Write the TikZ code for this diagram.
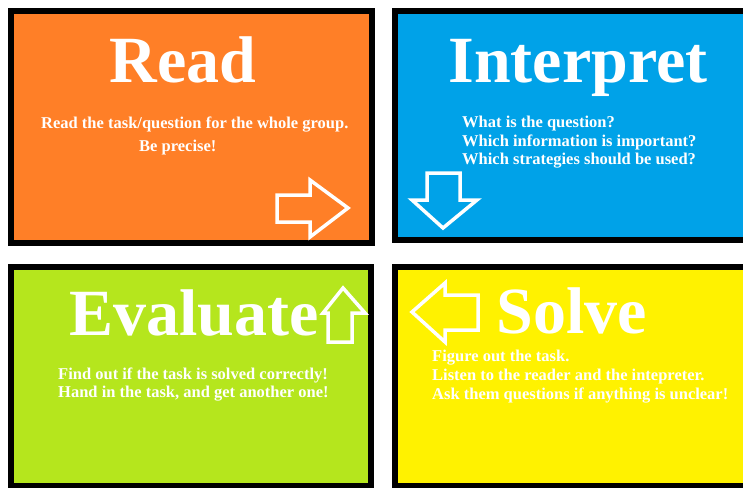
\documentclass[tikz,border=0pt]{standalone}
\usepackage{fontspec}
\setmainfont{Liberation Serif}
\usetikzlibrary{positioning}
\definecolor{readorange}{HTML}{FF7F27}
\definecolor{interpblue}{HTML}{00A2E8}
\definecolor{evalgreen}{HTML}{B5E61D}
\definecolor{solveyellow}{HTML}{FFF200}

\begin{document}
\begin{tikzpicture}[x=1pt,y=-1pt]
            \tikzstyle{every node}+=[inner sep=0pt,text=white]
            \tikzstyle{box}=[draw=black,line width=6pt]
            \tikzstyle{title}=[anchor=base,font=\fontsize{66}{66}\selectfont\bfseries]
            \tikzstyle{line}=[anchor=base west,font=\fontsize{16.5}{19}\selectfont\bfseries]
            \tikzstyle{blockarrow}=[draw=white,line width=3.5pt,line join=miter]
            \useasboundingbox (0,0) rectangle (743,487);
            \fill [white] (0,0) rectangle (743,487);
            % the four boxes
            \draw [box,fill=readorange] (11,11) rectangle (372,243);
            \draw [box,fill=interpblue] (395,11) rectangle (752,240);
            \draw [box,fill=evalgreen] (11,267) rectangle (371,486);
            \draw [box,fill=solveyellow] (395,267) rectangle (752,486);
            % read
            \node [title] (readtitle) at (183,82) {Read};
            \node [line] (read1) at (41,128) {Read the task/question for the whole group.};
            \node [line] (read2) at (139,151) {Be precise!};
            \draw [blockarrow] (277,195) -- (310,195) -- (310,180) -- (348,208)
              -- (310,237) -- (310,222) -- (277,222) -- cycle;
            % interpret
            \node [title] (interptitle) at (578,82) {Interpret};
            \node [line] (interp1) at (462,127) {What is the question?};
            \node [line] (interp2) at (462,146) {Which information is important?};
            \node [line] (interp3) at (462,164) {Which strategies should be used?};
            \draw [blockarrow] (427,173) -- (460,173) -- (460,200) -- (477,200) -- (443,228)
              -- (412,200) -- (427,200) -- cycle;
            % evaluate
            \node [title] (evaltitle) at (194,335) {Evaluate};
            \node [line] (eval1) at (58,379) {Find out if the task is solved correctly!};
            \node [line] (eval2) at (58,397) {Hand in the task, and get another one!};
            \draw [blockarrow] (328,342) -- (328,313) -- (323,313) -- (343,288)
              -- (365,313) -- (352,313) -- (352,342) -- cycle;
            % solve
            \node [title] (solvetitle) at (572,333) {Solve};
            \node [line] (solve1) at (432,361) {Figure out the task.};
            \node [line] (solve2) at (432,380) {Listen to the reader and the intepreter.};
            \node [line] (solve3) at (432,399) {Ask them questions if anything is unclear!};
            \draw [blockarrow] (478,295) -- (445,295) -- (445,283) -- (412,312)
              -- (445,342) -- (445,330) -- (478,330) -- cycle;
\end{tikzpicture}
\end{document}
